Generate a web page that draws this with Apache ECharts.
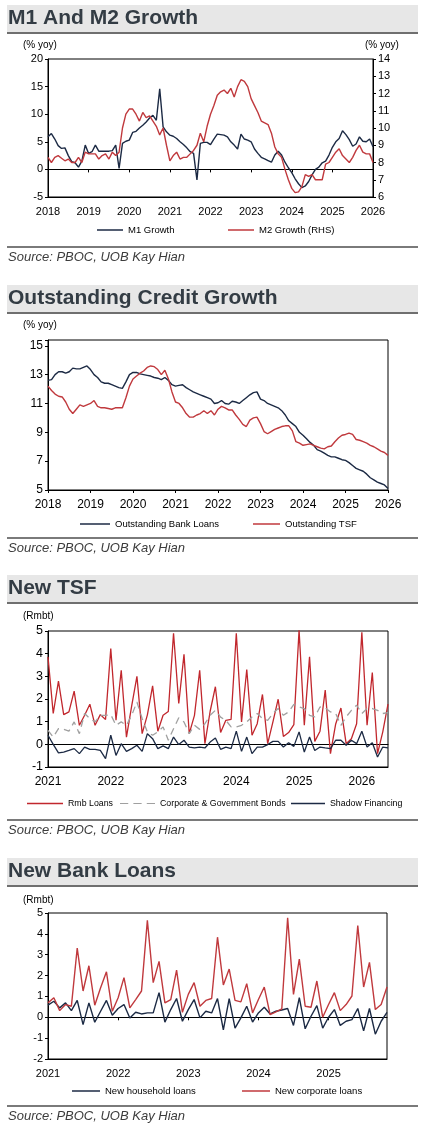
<!DOCTYPE html>
<html>
<head>
<meta charset="utf-8">
<script src="https://cdn.jsdelivr.net/npm/echarts@6/dist/echarts.min.js"></script>
<style>
  html, body { margin: 0; padding: 0; background: #fff; }
  #chart { width: 422px; height: 1134px; }
</style>
</head>
<body>
<div id="chart"></div>
<script>
// monthly category labels, 'YYYY-MM'
function monthList(year, count) {
  var out = [];
  for (var i = 0; i < count; i++) {
    var y = year + Math.floor(i / 12), m = i % 12 + 1;
    out.push(y + '-' + (m < 10 ? '0' : '') + m);
  }
  return out;
}

// M1 and M2 growth, Jan 2018 - Jan 2026 (% yoy)
var months1 = monthList(2018, 97);
var m1Growth = [5.9,6.5,5.5,4.3,3.8,3.9,2.5,1.4,1.2,0.4,
  1.5,4.4,2.9,3.2,4.4,3.3,3.3,3.3,3.3,3.4,
  4.4,0.2,4.7,5.1,5.3,6.7,6.9,7.5,8.0,8.6,
  9.3,9.8,8.9,14.6,7.7,6.8,6.2,6.0,5.6,5.0,
  4.5,3.9,3.2,2.9,-1.9,4.7,4.9,4.9,4.5,5.5,
  6.4,6.3,6.2,5.9,5.0,4.4,3.7,6.4,5.5,5.3,
  5.0,3.7,2.9,2.2,1.9,1.6,1.3,2.6,3.3,2.6,
  1.3,0.3,-0.6,-1.7,-2.6,-3.3,-3.0,-2.2,-1.0,0.0,
  0.4,1.2,1.5,2.6,4.0,5.0,5.6,7.0,6.3,5.4,
  4.2,4.6,5.9,5.1,5.0,5.5,4.1];
var m2Growth = [8.3,8.0,8.3,8.4,8.25,8.1,8.2,8.0,8.0,8.3,
  8.0,8.6,8.5,8.5,8.5,8.2,8.4,8.5,8.2,8.6,
  8.4,8.6,10.0,10.8,11.1,11.1,10.8,10.4,10.9,10.6,
  10.7,10.4,10.1,9.6,10.0,9.0,8.1,8.4,8.6,8.2,
  8.3,8.3,8.5,8.7,9.0,9.7,9.2,10.1,10.8,11.3,
  11.9,12.1,12.2,12.0,12.3,11.8,12.4,12.8,12.7,12.4,
  11.7,11.3,10.9,10.4,10.3,10.2,9.7,8.9,8.5,8.3,
  7.6,7.0,6.5,6.25,6.3,6.6,7.3,7.2,7.3,7.0,
  7.0,7.0,7.9,8.0,8.3,8.6,8.8,8.4,8.2,8.0,
  8.3,8.7,9.0,8.6,8.5,8.5,8.0];

// Outstanding credit growth, Jan 2018 - Jan 2026 (% yoy)
var months2 = monthList(2018, 97);
var bankLoans = [12.6,12.65,13.0,13.2,13.2,13.1,13.2,13.45,13.4,13.4,
  13.5,13.6,13.35,13.0,12.8,12.5,12.4,12.4,12.3,12.2,
  12.1,12.05,12.5,13.0,13.15,13.15,13.05,13.0,12.95,12.9,
  12.8,12.75,12.65,12.8,12.6,12.3,12.2,12.25,12.3,12.1,
  11.95,11.8,11.7,11.6,11.5,11.4,11.3,11.0,11.05,11.2,
  11.0,10.95,11.15,11.1,11.0,11.2,11.4,11.6,11.75,11.8,
  11.3,11.2,11.0,10.9,10.8,10.7,10.5,10.2,9.8,9.6,
  9.4,9.0,8.8,8.55,8.3,8.1,7.8,7.7,7.55,7.4,
  7.3,7.3,7.2,7.1,7.05,6.9,6.7,6.5,6.4,6.3,
  6.1,5.85,5.7,5.55,5.45,5.35,5.1];
var outstandingTsf = [12.2,11.9,11.65,11.5,11.45,11.1,10.6,10.3,10.6,10.9,
  10.8,10.9,11.0,11.2,10.8,10.7,10.7,10.65,10.6,10.7,
  10.7,10.7,11.4,12.2,12.7,12.9,13.1,13.25,13.5,13.6,
  13.55,13.35,13.0,13.3,12.7,11.8,11.1,11.0,10.7,10.3,
  10.05,10.05,10.2,10.3,10.5,10.3,10.5,10.2,10.6,10.8,
  10.7,10.55,10.55,10.2,9.9,9.55,9.4,9.85,10.0,10.05,
  9.6,9.05,8.9,9.05,9.2,9.3,9.4,9.45,9.45,9.1,
  8.35,8.25,8.1,8.15,8.2,8.1,8.0,7.9,7.85,8.0,
  8.05,8.35,8.6,8.8,8.85,8.95,8.85,8.5,8.45,8.35,
  8.25,8.1,8.0,7.85,7.7,7.6,7.4];

// New TSF components, Jan 2021 - Jun 2026 (Rmb trn)
var months3 = monthList(2021, 66);
var rmbLoans = [3.86,1.36,2.79,1.31,1.43,2.35,0.84,1.28,1.77,0.84,
  1.31,1.1,4.23,1.06,3.27,0.32,1.7,3.0,0.47,1.3,
  2.58,0.58,1.28,1.45,4.9,1.8,3.97,0.47,1.28,3.27,
  0.03,1.46,2.54,0.52,1.06,1.1,4.9,0.99,3.3,0.4,
  0.91,2.2,0.03,0.99,1.99,0.35,0.52,0.87,5.04,0.84,
  3.86,0.13,0.58,2.39,-0.41,0.9,1.6,0.03,0.25,0.91,
  4.94,0.84,3.17,-0.41,0.55,1.77];
var bonds = [0.62,0.32,0.69,0.66,0.58,0.99,0.47,1.36,1.14,0.99,
  1.28,1.28,1.31,0.84,0.99,0.84,1.28,1.87,1.14,0.55,
  0.4,0.55,0.77,0.18,0.69,1.17,0.99,0.47,0.84,0.66,
  0.91,1.28,1.5,1.2,1.06,0.77,0.77,0.84,0.99,1.21,
  1.36,1.14,1.06,1.36,1.58,1.28,1.43,1.76,1.65,1.58,
  1.28,1.21,1.65,1.61,1.43,1.36,0.84,1.21,1.5,1.73,
  1.36,1.58,1.58,1.5,1.36,1.4];
var shadow = [0.4,0,-0.38,-0.34,-0.27,-0.19,-0.41,-0.12,-0.22,-0.22,
  -0.27,-0.63,0.4,-0.49,0.03,-0.31,-0.19,-0.04,-0.31,0.47,
  0.25,-0.19,-0.07,-0.19,0.32,-0.01,0.18,-0.12,-0.16,-0.12,
  -0.16,0.1,0.28,-0.22,-0.12,-0.19,0.58,-0.31,0.32,-0.41,
  -0.12,-0.12,-0.01,0.13,0.13,-0.12,0.07,-0.09,0.55,-0.34,
  0.32,-0.27,-0.12,-0.16,-0.19,0.18,0.18,-0.04,0.18,0.03,
  0.58,-0.12,0.07,-0.56,-0.12,-0.16];

// New bank loans, Jan 2021 - Nov 2025 (Rmb trn)
var months4 = monthList(2021, 59);
var household = [0.58,0.77,0.45,0.69,0.32,0.81,-0.35,0.69,-0.24,0.29,
  0.81,0.1,0.42,0.61,-0.03,0.24,0.16,0.21,0.21,1.18,
  -0.23,0.37,0.9,-0.19,0.37,0.85,-0.03,0.29,0.21,0.9,
  -0.6,0.9,-0.52,-0.03,0.53,-0.23,0.21,0.48,0.16,0.29,
  0.35,0.42,-0.39,0.94,-0.55,0.05,0.56,-0.52,0.0,0.37,
  -0.39,-0.19,-0.11,0.42,-0.65,0.42,-0.81,-0.19,0.24];
var corporate = [0.69,0.94,0.32,0.61,0.53,3.32,1.26,2.47,0.58,1.42,
  2.18,0.29,0.94,1.9,0.45,0.85,1.26,4.65,1.66,2.68,
  0.69,0.85,2.26,0.24,1.1,1.66,0.53,0.81,0.9,3.84,
  1.55,2.31,0.81,0.74,1.61,0.21,0.85,1.45,0.13,0.26,
  0.4,4.77,1.1,2.79,0.53,0.48,1.74,0.0,0.61,1.18,
  0.32,0.61,1.02,4.4,1.45,2.63,0.37,0.61,1.45];

var NARROW = "'Liberation Sans Narrow','Arial Narrow','Liberation Sans',Arial,sans-serif";
var SANS = "'Liberation Sans',Arial,sans-serif";
var NAVY = '#1c2a44';
var RED = '#c0393d';
var GREY = '#a0a0a0';

function isJan(index, value) { return value.slice(5) === '01'; }
function yearOf(value) { return value.slice(0, 4); }

function grid(left, top, width, height) {
  return { left: left, top: top, width: width, height: height, show: true,
    borderColor: '#000', borderWidth: 1, containLabel: false, outerBoundsMode: 'none' };
}
function labelAxis(gi, cats, size, ticks) {
  return { gridIndex: gi, type: 'category', data: cats, boundaryGap: false,
    axisLine: { onZero: false, lineStyle: { color: '#000', width: 1 } },
    axisTick: { show: ticks, interval: isJan, length: 3, lineStyle: { color: '#000' } },
    axisLabel: { interval: isJan, formatter: yearOf, color: '#000', fontSize: size,
      fontFamily: NARROW, margin: 9, showMinLabel: true, showMaxLabel: true },
    splitLine: { show: false } };
}
function zeroAxis(gi, cats, ticks) {
  return { gridIndex: gi, type: 'category', data: cats, boundaryGap: false, position: 'bottom',
    axisLine: { onZero: true, lineStyle: { color: '#000', width: 1 } },
    axisTick: { show: ticks, interval: isJan, length: 3, lineStyle: { color: '#000' } },
    axisLabel: { show: false }, splitLine: { show: false } };
}
function valAxis(gi, min, max, step, pos, size) {
  return { gridIndex: gi, type: 'value', min: min, max: max, interval: step, position: pos,
    axisLine: { show: true, lineStyle: { color: '#000' } },
    axisTick: { show: true, length: 3, lineStyle: { color: '#000' } },
    axisLabel: { color: '#000', fontSize: size, fontFamily: NARROW, margin: 5,
      formatter: function (v) { return (Math.abs((v - min) / step - Math.round((v - min) / step)) < 1e-6) ? String(v) : ''; } },
    splitLine: { show: false } };
}
function line(name, data, xi, yi, color, width, dash) {
  return { name: name, type: 'line', data: data, xAxisIndex: xi, yAxisIndex: yi,
    symbol: 'none', smooth: false, animation: false,
    lineStyle: { color: color, width: width, type: dash || 'solid' },
    itemStyle: { color: color } };
}
// one legend entry, placed where the reference puts it
var DASH_ICON = 'path://M0,0H8V1H0Z M13,0H21V1H13Z M26,0H34V1H26Z';
function legendItem(name, left, top, w, icon, size) {
  return { data: [name], left: left, top: top, itemWidth: w, itemHeight: 1.5,
    icon: icon || 'rect', padding: 0, selectedMode: false,
    textStyle: { fontSize: size || 9.5, fontFamily: NARROW, color: '#000' } };
}

// title bar, separator and source note for each panel
var panels = [
  { title: 'M1 And M2 Growth', top: 5, rule: 246 },
  { title: 'Outstanding Credit Growth', top: 285, rule: 537 },
  { title: 'New TSF', top: 575, rule: 819 },
  { title: 'New Bank Loans', top: 858, rule: 1105 }
];
var graphics = [];
panels.forEach(function (p) {
  graphics.push({ type: 'rect', left: 7, top: p.top, shape: { width: 411, height: 27 }, style: { fill: '#e7e7e7' }, silent: true });
  graphics.push({ type: 'rect', left: 7, top: p.top + 27, shape: { width: 411, height: 2 }, style: { fill: '#6f6f6f' }, silent: true });
  graphics.push({ type: 'text', left: 8, top: p.top + 3, style: { text: p.title, fill: '#333c44', font: 'bold 21px ' + SANS } });
  graphics.push({ type: 'rect', left: 7, top: p.rule, shape: { width: 411, height: 2 }, style: { fill: '#7a7a7a' }, silent: true });
  graphics.push({ type: 'text', left: 8, top: p.rule + 5, style: { text: 'Source: PBOC, UOB Kay Hian', fill: '#3c3c3c', font: 'italic 13px ' + SANS } });
});
[['(% yoy)', 23, 40], ['(% yoy)', 365, 40], ['(% yoy)', 23, 320], ['(Rmbt)', 23, 611], ['(Rmbt)', 23, 895]].forEach(function (u) {
  graphics.push({ type: 'text', left: u[1], top: u[2], style: { text: u[0], fill: '#000', font: '10px ' + NARROW } });
});

var chart = echarts.init(document.getElementById('chart'), null, { renderer: 'canvas' });
chart.setOption({
  animation: false,
  backgroundColor: '#fff',
  graphic: graphics,
  grid: [grid(48, 59, 325, 138), grid(48, 340, 340, 150), grid(48, 631, 340, 136), grid(48, 913, 339, 146)],
  xAxis: [
    labelAxis(0, months1, 11, false), zeroAxis(0, months1, true),
    labelAxis(1, months2, 12, true),
    labelAxis(2, months3, 12, false), zeroAxis(2, months3, false),
    labelAxis(3, months4, 11, false), zeroAxis(3, months4, true)
  ],
  yAxis: [
    valAxis(0, -5, 20, 5, 'left', 11), valAxis(0, 6, 14, 1, 'right', 11),
    valAxis(1, 5, 15.4, 2, 'left', 12),
    valAxis(2, -1, 5, 1, 'left', 12.5),
    valAxis(3, -2, 5, 1, 'left', 11)
  ],
  legend: [
    legendItem('M1 Growth', 97, 225, 26),
    legendItem('M2 Growth (RHS)', 228, 225, 26),
    legendItem('Outstanding Bank Loans', 80, 519, 30),
    legendItem('Outstanding TSF', 253, 519, 27),
    legendItem('Rmb Loans', 27, 799, 36, null, 8.8),
    legendItem('Corporate & Government Bonds', 120, 799, 35, DASH_ICON, 8.8),
    legendItem('Shadow Financing', 291, 799, 34, null, 8.8),
    legendItem('New household loans', 72, 1086, 28),
    legendItem('New corporate loans', 242, 1086, 28)
  ],
  series: [
    line('M1 Growth', m1Growth, 0, 0, NAVY, 1.4),
    line('M2 Growth (RHS)', m2Growth, 0, 1, RED, 1.4),
    line('Outstanding Bank Loans', bankLoans, 2, 2, NAVY, 1.4),
    line('Outstanding TSF', outstandingTsf, 2, 2, RED, 1.4),
    line('Rmb Loans', rmbLoans, 3, 3, '#c1272d', 1.3),
    line('Corporate & Government Bonds', bonds, 3, 3, GREY, 1.3, [7, 5]),
    line('Shadow Financing', shadow, 3, 3, NAVY, 1.3),
    line('New household loans', household, 5, 4, NAVY, 1.4),
    line('New corporate loans', corporate, 5, 4, RED, 1.4)
  ]
});
</script>
</body>
</html>
